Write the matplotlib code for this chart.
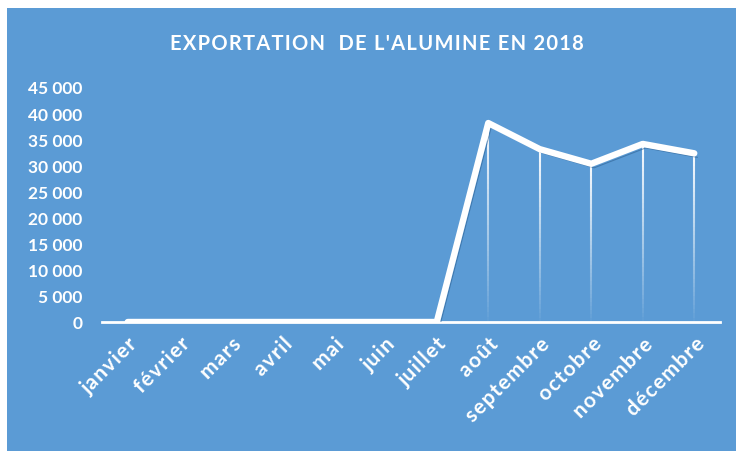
import numpy as np
import matplotlib
matplotlib.use('Agg')
import matplotlib.pyplot as plt
from matplotlib.collections import LineCollection
from matplotlib.patches import Rectangle
from matplotlib.transforms import offset_copy

months = ['janvier', 'février', 'mars', 'avril', 'mai', 'juin', 'juillet',
          'août', 'septembre', 'octobre', 'novembre', 'décembre']
exports = [0, 0, 0, 0, 0, 0, 0, 38100, 33100, 30300, 34100, 32300]
y_ticks = [0, 5000, 10000, 15000, 20000, 25000, 30000, 35000, 40000, 45000]

blue = '#5b9bd5'
plt.rcParams['font.family'] = ['Lato', 'DejaVu Sans']

fig = plt.figure(figsize=(7.36, 4.52), dpi=100, facecolor='white')
fig.patches.append(Rectangle((7 / 736, 0), 1, 1 - 9 / 452, transform=fig.transFigure,
                             facecolor=blue, edgecolor='none', zorder=-5))

ax = fig.add_axes([102 / 736, 1 - 323 / 452, 618 / 736, 235 / 452])
ax.set_facecolor('none')
x = np.arange(len(months))

# drop lines fading towards the axis
segs, alphas = [], []
for xi, yi in zip(x, exports):
    if yi <= 0:
        continue
    ys = np.linspace(yi, 0, 40)
    for k in range(len(ys) - 1):
        segs.append([(xi, ys[k]), (xi, ys[k + 1])])
        alphas.append(0.95 * (1 - k / (len(ys) - 1)) ** 0.9)
cols = [(1, 1, 1, a) for a in alphas]
ax.add_collection(LineCollection(segs, colors=cols, linewidths=1.5, zorder=2))

# thin shadow outline
shadow = offset_copy(ax.transData, fig=fig, x=3, y=-4, units='dots')
ax.plot(x, exports, color='#2f6395', lw=0.8, alpha=0.6, transform=shadow, zorder=2.5)
ax.plot(x, exports, color='white', lw=4.6, solid_capstyle='round', solid_joinstyle='round', zorder=3)

ax.set_xlim(-0.5, len(months) - 0.5)
ax.set_ylim(0, 45000)
ax.set_yticks(y_ticks)
ax.set_yticklabels([f'{v:,}'.replace(',', ' ') for v in y_ticks])
ax.set_xticks(x)
ax.set_xticklabels(['\u200a'.join(m) for m in months], rotation=45, ha='right',
                   rotation_mode='anchor', fontsize=15)

for s in ['top', 'right', 'left']:
    ax.spines[s].set_visible(False)
ax.spines['bottom'].set_color('white')
ax.spines['bottom'].set_linewidth(2)
ax.spines['bottom'].set_zorder(1)
ax.tick_params(axis='both', length=0, colors='white')
ax.tick_params(axis='y', pad=14, labelsize=12.5)
ax.tick_params(axis='x', pad=8)
for lab in ax.get_xticklabels() + ax.get_yticklabels():
    lab.set_fontweight('bold')

title = "EXPORTATION  DE L'ALUMINE EN 2018"
fig.text(377 / 736, 1 - 44 / 452, '\u200a'.join(title),
         color='white', fontsize=14.5, fontweight='bold', ha='center', va='center')

fig.savefig('out.png', dpi=100, facecolor='white')
